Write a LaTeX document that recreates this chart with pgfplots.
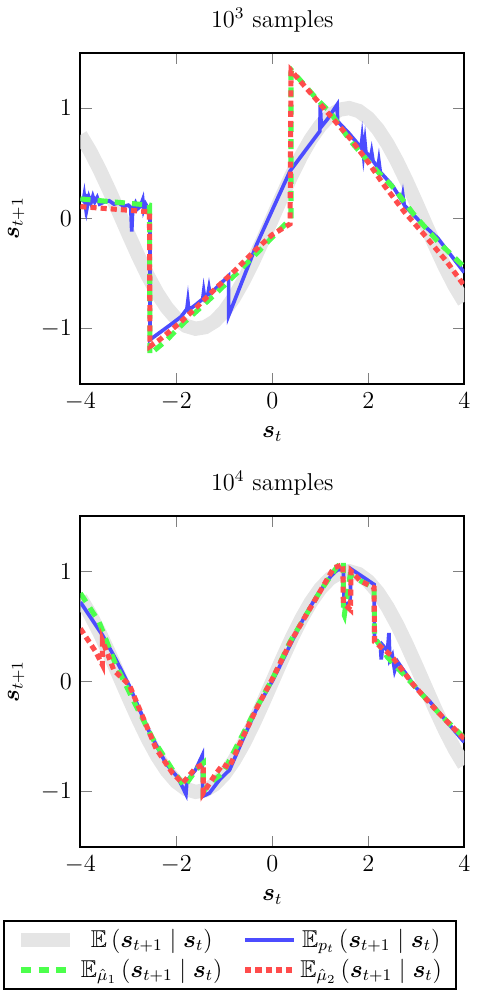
\documentclass[12pt,border=0pt]{standalone}
\usepackage{amsmath,amssymb,bm}
\usepackage{pgfplots}
\pgfplotsset{compat=1.18}

\pgfplotsset{
  panel/.style={
    scale only axis, width=189pt, height=163pt,
    xmin=-4, xmax=4, ymin=-1.5, ymax=1.5,
    xtick={-4,-2,0,2,4}, ytick={-1,0,1},
    axis line style={line width=0.9pt},
    tick style={gray, thin},
    major tick length=5.5pt,
    xlabel={$\bm{s}_t$}, ylabel={$\bm{s}_{t+1}$},
  },
  truth/.style={black!10, line width=7pt},
  pt/.style={blue!70, line width=1.8pt},
  muone/.style={green!70, line width=2.5pt, dash pattern=on 5pt off 3.5pt},
  mutwo/.style={red!70, line width=2.5pt, dash pattern=on 3pt off 2pt},
}

\pgfplotstableread{
x y
-4.0 0.7568
-3.8 0.6119
-3.6 0.4425
-3.4 0.2555
-3.2 0.0584
-3.0 -0.1411
-2.8 -0.3350
-2.6 -0.5155
-2.4 -0.6755
-2.2 -0.8085
-2.0 -0.9093
-1.8 -0.9738
-1.6 -0.9996
-1.4 -0.9854
-1.2 -0.9320
-1.0 -0.8415
-0.8 -0.7174
-0.6 -0.5646
-0.4 -0.3894
-0.2 -0.1987
0.0 0.0
0.2 0.1987
0.4 0.3894
0.6 0.5646
0.8 0.7174
1.0 0.8415
1.2 0.9320
1.4 0.9854
1.6 0.9996
1.8 0.9738
2.0 0.9093
2.2 0.8085
2.4 0.6755
2.6 0.5155
2.8 0.3350
3.0 0.1411
3.2 -0.0584
3.4 -0.2555
3.6 -0.4425
3.8 -0.6119
4.0 -0.7568
}\truthdata

\begin{document}
\begin{tikzpicture}
% 10^3 samples
\begin{axis}[panel, at={(0,228pt)}, anchor=south west, title={$10^3$ samples}]
  \addplot[truth] table {\truthdata};
  \addplot[pt] coordinates {
    (-4,0.18)(-3.94,0.16)(-3.92,0.21)(-3.9,0.14)(-3.88,0.22)(-3.86,0.1)(-3.82,0.19)
    (-3.78,0.14)(-3.74,0.2)(-3.7,0.15)(-3.65,0.19)(-3.6,0.13)(-3.5,0.15)(-3.4,0.16)
    (-3.3,0.13)(-3.2,0.14)(-3.1,0.11)(-3.0,0.12)(-2.95,0.10)(-2.93,-0.12)(-2.91,0.08)
    (-2.85,0.14)(-2.8,0.09)(-2.75,0.11)(-2.7,0.17)(-2.68,0.08)(-2.64,0.13)(-2.6,0.1)
    (-2.55,0.08)(-2.55,-1.1)(-2.49,-1.08)(-2.3,-1.02)(-2.08,-0.95)(-1.9,-0.89)
    (-1.78,-0.82)(-1.76,-0.75)(-1.74,-0.83)(-1.59,-0.78)(-1.45,-0.73)(-1.43,-0.66)
    (-1.41,-0.72)(-1.34,-0.68)(-1.32,-0.63)(-1.3,-0.68)(-1.24,-0.66)(-0.91,-0.52)
    (-0.91,-0.88)(-0.33,-0.24)(0.37,0.43)(0.99,0.79)(1.0,1.03)(1.02,0.83)
    (1.15,0.9)(1.35,1.03)(1.36,0.88)(1.6,0.77)(1.85,0.64)(1.87,0.72)(1.9,0.58)
    (1.93,0.69)(1.95,0.6)(2.05,0.55)(2.07,0.6)(2.1,0.52)(2.2,0.46)(2.22,0.52)
    (2.25,0.42)(2.5,0.3)(2.7,0.16)(2.72,0.21)(2.75,0.12)(3.1,-0.04)(3.45,-0.18)
    (4,-0.49)};
  \addplot[muone] coordinates {
    (-4,0.177)(-2.56,0.12)(-2.55,-1.23)(-2.22,-1.11)(-1.97,-1.0)(-1.73,-0.90)
    (-1.45,-0.79)(-1.2,-0.69)(-0.96,-0.59)(-0.68,-0.47)(-0.4,-0.35)(0.0,-0.17)
    (0.39,0.0)(0.39,1.32)(0.405,1.34)(0.93,1.08)(1.21,0.96)(1.63,0.70)
    (2.05,0.49)(2.54,0.27)(2.96,0.03)(3.45,-0.21)(4,-0.44)};
  \addplot[mutwo] coordinates {
    (-4,0.107)(-2.56,0.06)(-2.55,-1.16)(-2.35,-1.10)(-1.94,-0.95)(-1.59,-0.81)
    (-1.17,-0.63)(-0.75,-0.46)(-0.36,-0.29)(-0.01,-0.15)(0.37,-0.05)
    (0.39,1.34)(0.93,1.07)(1.21,0.93)(1.63,0.72)(1.98,0.52)(2.33,0.30)
    (2.75,0.06)(3.17,-0.15)(3.65,-0.40)(4,-0.61)};
\end{axis}
% 10^4 samples
\begin{axis}[panel, at={(0,0)}, anchor=south west, title={$10^4$ samples},
  legend columns=2,
  legend cell align=center,
  legend style={at={(0.39,-0.22)}, anchor=north, draw=black, line width=0.9pt,
    font=\normalsize, inner xsep=5pt,
    /tikz/every even column/.append style={column sep=8pt}},
  legend image code/.code={\draw[#1] (0cm,0cm) -- (0.84cm,0cm);},
]
  \addplot[truth] table {\truthdata};
  \addlegendentry{$\mathbb{E}\left(\bm{s}_{t+1} \mid \bm{s}_t\right)$}
  \addplot[pt] coordinates {
    (-4,0.72)(-3.54,0.42)(-3.26,0.2)(-2.98,-0.04)(-2.56,-0.46)(-2.22,-0.74)
    (-1.97,-0.87)(-1.8,-1.02)(-1.78,-0.9)(-1.6,-0.8)(-1.46,-0.67)(-1.45,-1.04)
    (-1.31,-1.01)(-1.1,-0.89)(-0.89,-0.80)(-0.61,-0.52)(-0.33,-0.25)(0.02,0.02)
    (0.37,0.33)(0.65,0.57)(0.93,0.78)(1.21,0.95)(1.35,1.01)(1.48,1.02)(1.5,0.69)
    (1.62,0.72)(1.64,1.02)(2.12,0.88)(2.13,0.39)(2.25,0.34)(2.27,0.2)(2.3,0.33)
    (2.4,0.28)(2.43,0.44)(2.45,0.2)(2.5,0.24)(2.55,0.1)(2.61,0.18)(2.96,-0.04)
    (3.3,-0.19)(3.65,-0.37)(4,-0.55)};
  \addlegendentry{$\mathbb{E}_{p_t}\left(\bm{s}_{t+1} \mid \bm{s}_t\right)$}
  \addplot[muone] coordinates {
    (-4,0.80)(-3.61,0.54)(-3.26,0.15)(-2.84,-0.22)(-2.49,-0.52)(-2.08,-0.80)
    (-1.83,-0.95)(-1.59,-0.80)(-1.44,-0.74)(-1.44,-1.0)(-1.31,-0.92)(-1.03,-0.83)
    (-0.7,-0.55)(-0.33,-0.24)(0.02,0.04)(0.37,0.36)(0.7,0.6)(1.0,0.82)(1.35,1.04)
    (1.48,1.09)(1.48,0.62)(1.5,0.60)(1.62,0.96)(2.12,0.85)(2.13,0.40)(2.4,0.22)
    (2.96,-0.04)(3.5,-0.3)(4,-0.51)};
  \addlegendentry{$\mathbb{E}_{\hat{\mu}_1}\left(\bm{s}_{t+1} \mid \bm{s}_t\right)$}
  \addplot[mutwo] coordinates {
    (-4,0.48)(-3.68,0.27)(-3.54,0.15)(-3.54,0.37)(-3.3,0.1)(-2.98,-0.03)
    (-2.42,-0.61)(-2.08,-0.83)(-1.87,-0.92)(-1.59,-0.78)(-1.44,-0.75)(-1.44,-1.01)
    (-1.35,-0.95)(-1.2,-0.85)(-1.03,-0.75)(-0.9,-0.78)(-0.61,-0.5)(-0.3,-0.22)
    (0.02,0.04)(0.37,0.35)(0.7,0.6)(1.0,0.82)(1.28,1.03)(1.47,1.06)(1.48,0.71)
    (1.63,0.65)(1.64,1.0)(1.84,0.91)(2.12,0.85)(2.13,0.36)(2.47,0.24)
    (2.96,-0.04)(3.5,-0.3)(4,-0.52)};
  \addlegendentry{$\mathbb{E}_{\hat{\mu}_2}\left(\bm{s}_{t+1} \mid \bm{s}_t\right)$}
\end{axis}
\end{tikzpicture}
\end{document}
